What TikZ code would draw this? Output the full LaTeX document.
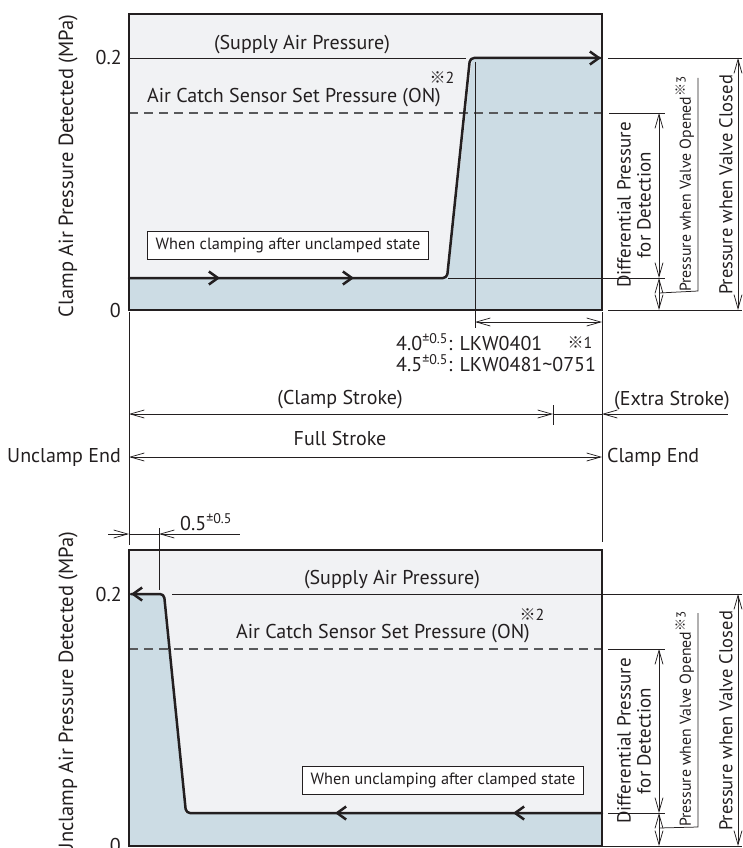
\documentclass[tikz,border=0pt]{standalone}
\usepackage{fontspec}
\setmainfont{PT Sans}
\newfontfamily\cjkf{Noto Sans CJK JP}
\usetikzlibrary{arrows.meta}
\newcommand{\refmk}{{\cjkf ※}}
\newcommand{\tolsup}[1]{\textsuperscript{\fontsize{14}{14}\selectfont #1}}
\definecolor{bgc}{HTML}{F1F2F4}
\definecolor{bluec}{HTML}{CCDCE4}
\definecolor{ink}{HTML}{231F20}
\definecolor{dashc}{HTML}{58595B}
\begin{document}
\begin{tikzpicture}[x=1pt,y=-1pt,
  frame/.style={draw=ink,line width=2.8pt},
  curve/.style={draw=ink,line width=2.5pt,line join=round,line cap=round},
  thinl/.style={draw=ink,line width=0.75pt},
  dashl/.style={draw=dashc,line width=1.2pt,dash pattern=on 9pt off 6pt},
  barb/.tip={Straight Barb[length=14pt,width=8pt]},
  cbarb/.tip={Straight Barb[length=9pt,width=13pt]},
  dimline/.style={thinl,barb-barb},
  lbl/.style={font=\fontsize{20}{22}\selectfont,text=ink,inner sep=0pt},
  axlbl/.style={font=\fontsize{20.5}{22}\selectfont,text=ink,inner sep=0pt,rotate=90},
  openlbl/.style={font=\fontsize{15.8}{19}\selectfont,text=ink,inner sep=0pt,rotate=90},
  difflbl/.style={font=\fontsize{19}{20}\selectfont,text=ink,inner sep=0pt,rotate=90,align=center},
  closedlbl/.style={font=\fontsize{18.5}{20}\selectfont,text=ink,inner sep=0pt,rotate=90},
  notelbl/.style={font=\fontsize{16}{18}\selectfont,text=ink,inner sep=0pt},
  statebox/.style={draw=ink,line width=0.6pt,fill=white,minimum width=281pt,minimum height=28pt,font=\fontsize{16.3}{18}\selectfont,text=ink,inner sep=0pt}
]
\useasboundingbox (0,0) rectangle (742,848);

% ================= TOP CHART =================
\fill[bgc] (129,14) rectangle (602,310);
\fill[bluec] (129,278) -- (448,278) -- (472,58) -- (602,58) -- (602,310) -- (129,310) -- cycle;
\draw[thinl] (129,58) -- (466,58);
\draw[thinl] (448,278) -- (665,278);
\draw[dashl] (129,113) -- (602,113);
\draw[thinl] (475,62) -- (475,328);
\draw[curve,rounded corners=4pt] (129,278) -- (447,278) -- (470,58) -- (600,58);
\draw[curve,-cbarb] (205,278) -- (220,278);
\draw[curve,-cbarb] (339,278) -- (354,278);
\draw[curve,-cbarb] (585,58) -- (601,58);
\draw[frame] (129,14) rectangle (602,310);

\node[lbl] (sup1) at (302,45) {(Supply Air Pressure)};
\node[lbl] (acs1) at (294,98) {Air Catch Sensor Set Pressure (ON)};
\node[notelbl] (n2a) at (442,78) {\refmk2};
\node[statebox] (st1) at (288,245) {When clamping after unclamped state};
\node[lbl,anchor=east] (y02a) at (122,58) {0.2};
\node[lbl,anchor=east] (y0a) at (121,310) {0};
\node[axlbl] (yla) at (68,166) {Clamp Air Pressure Detected (MPa)};

% stroke tolerance
\draw[dimline] (475,322) -- (602,322);
\node[lbl,anchor=west] (lk1) at (396,342) {4.0\tolsup{±0.5}: LKW0401};
\node[notelbl] (n1) at (580,343) {\refmk1};
\node[lbl,anchor=west] (lk2) at (396,363) {4.5\tolsup{±0.5}: LKW0481\char"007E 0751};

% right dims top
\draw[thinl] (608,58) -- (742,58);
\draw[thinl] (609,113) -- (665,113);
\draw[thinl] (608,310) -- (742,310);
\draw[dimline] (659,113) -- (659,278);
\draw[dimline] (659,278) -- (659,310);
\draw[thinl] (659,293) -- (698,291) -- (698,78);
\draw[dimline] (738,58) -- (738,310);
\node[difflbl] (dpa) at (634,205) {Differential Pressure\\for Detection};
\node[openlbl] (poa) at (685,184) {Pressure when Valve Opened\textsuperscript{\fontsize{13}{13}\selectfont\refmk3}};
\node[closedlbl] (pca) at (726,185) {Pressure when Valve Closed};

% ================= MIDDLE =================
\draw[thinl] (129,312) -- (129,545);
\draw[thinl] (602,312) -- (602,542);
\draw[thinl] (553,405) -- (553,425);
\draw[dimline] (129,414) -- (553,414);
\draw[thinl] (553,414) -- (602,414);
\draw[thinl,barb-] (602,414) -- (728,414);
\draw[dimline] (129,457) -- (602,457);
\node[lbl] (cs) at (340,400) {(Clamp Stroke)};
\node[lbl,anchor=west] (es) at (614,401) {(Extra Stroke)};
\node[lbl] (fs) at (340,438) {Full Stroke};
\node[lbl,anchor=east] (ue) at (121,457) {Unclamp End};
\node[lbl,anchor=west] (ce) at (607,457) {Clamp End};

% ================= BOTTOM CHART =================
\fill[bgc] (129,550) rectangle (602,846);
\fill[bluec] (129,594) -- (163,594) -- (185,813) -- (602,813) -- (602,846) -- (129,846) -- cycle;
\draw[thinl] (172,594) -- (742,594);
\draw[dashl] (129,649) -- (602,649);
\draw[thinl] (159,528) -- (159,590);
\draw[curve,rounded corners=4pt] (602,813) -- (186,813) -- (164,594) -- (131,594);
\draw[curve,-cbarb] (528,813) -- (513,813);
\draw[curve,-cbarb] (350,813) -- (335,813);
\draw[curve,-cbarb] (146,594) -- (131,594);
\draw[frame] (129,550) rectangle (602,846);

% 0.5 dim
\draw[thinl,-barb] (108,534) -- (129,534);
\draw[thinl] (129,534) -- (159,534);
\draw[thinl,barb-] (159,534) -- (240,534);
\node[lbl,anchor=west] (h05) at (180,522) {0.5\tolsup{±0.5}};

\node[lbl] (sup2) at (392,580) {(Supply Air Pressure)};
\node[lbl] (acs2) at (383,634) {Air Catch Sensor Set Pressure (ON)};
\node[notelbl] (n2b) at (532,615) {\refmk2};
\node[statebox] (st2) at (443,780) {When unclamping after clamped state};
\node[lbl,anchor=east] (y02b) at (122,594) {0.2};
\node[lbl,anchor=east] (y0b) at (121,845) {0};
\node[axlbl] (ylb) at (68,694) {Unclamp Air Pressure Detected (MPa)};

% right dims bottom
\draw[thinl] (608,649) -- (665,649);
\draw[thinl] (608,813) -- (665,813);
\draw[thinl] (603,846) -- (742,846);
\draw[dimline] (659,649) -- (659,813);
\draw[dimline] (659,813) -- (659,846);
\draw[thinl] (659,828) -- (698,827) -- (698,613);
\draw[dimline] (738,594) -- (738,846);
\node[difflbl] (dpb) at (634,741) {Differential Pressure\\for Detection};
\node[openlbl] (pob) at (685,719) {Pressure when Valve Opened\textsuperscript{\fontsize{13}{13}\selectfont\refmk3}};
\node[closedlbl] (pcb) at (726,721) {Pressure when Valve Closed};
\end{tikzpicture}
\end{document}
